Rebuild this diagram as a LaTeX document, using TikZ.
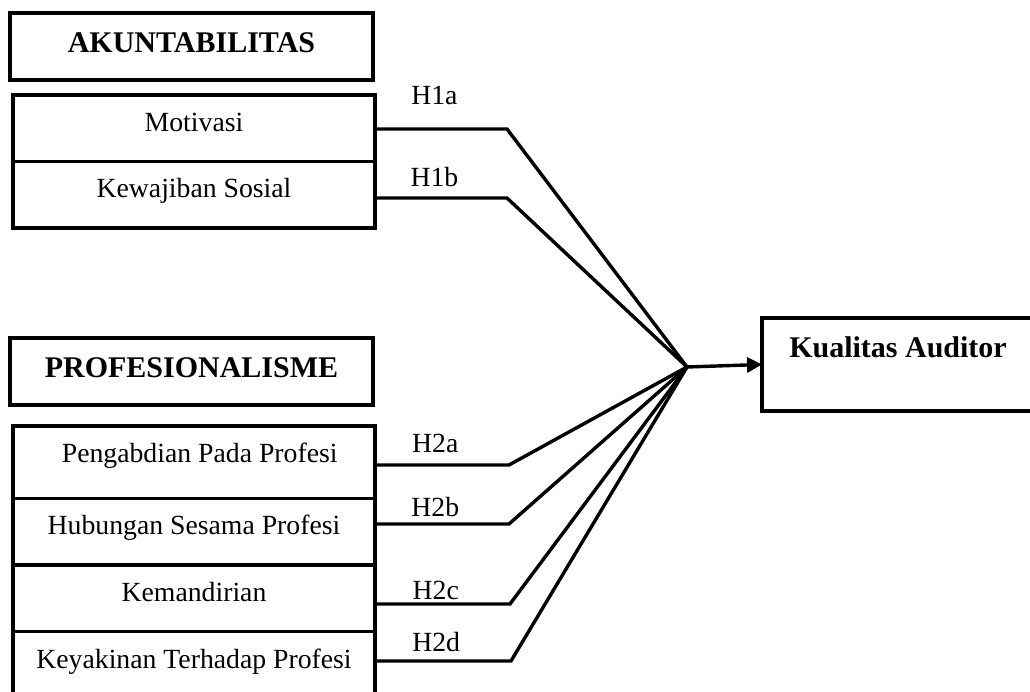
\documentclass[tikz,border=0pt]{standalone}
\usepackage{fontspec}
\setmainfont{Liberation Serif}
\usetikzlibrary{positioning,arrows.meta}
\begin{document}
\begin{tikzpicture}[
                        x=0.44pt,
                        y=-0.44pt,
                        header/.style={
                            rectangle,
                            draw,
                            line width=1.5pt,
                            outer sep=0pt,
                            inner sep=0pt,
                            minimum width=159.7pt,
                            text height=17.6pt,
                            text depth=11.9pt,
                            font=\fontsize{13.2pt}{16pt}\selectfont\bfseries
                        },
                        block/.style={
                            rectangle,
                            draw,
                            line width=1.5pt,
                            outer sep=0pt,
                            inner sep=0pt,
                            minimum width=159.3pt,
                            text height=16pt,
                            text depth=13.3pt,
                            font=\fontsize{12.2pt}{14pt}\selectfont
                        },
                        hyp/.style={
                            inner sep=0pt,
                            font=\fontsize{12.2pt}{14pt}\selectfont
                        },
                        line/.style={
                            draw,
                            line width=1.5pt
                        }]

                        \useasboundingbox (0,0) rectangle (1030,692);

                        % akuntabilitas
                        \node (akuntabilitas) [header, anchor=north west] at (10,13) {AKUNTABILITAS};
                        \node (motivasi) [block, anchor=north west] at (13,95) {Motivasi};
                        \node (kewajiban_sosial) [block, below=0pt of motivasi] {Kewajiban Sosial};

                        % profesionalisme
                        \node (profesionalisme) [header, anchor=north west] at (10,338) {PROFESIONALISME};
                        \node (pengabdian) [block, text depth=15.9pt, anchor=north west] at (13,426) {\hspace{5pt}Pengabdian Pada Profesi};
                        \node (hubungan) [block, below=0pt of pengabdian] {Hubungan Sesama Profesi};
                        \node (kemandirian) [block, below=0pt of hubungan] {Kemandirian};
                        \node (keyakinan) [block, below=0pt of kemandirian] {Keyakinan Terhadap Profesi};

                        \node (kualitas_auditor) [header, minimum width=119.7pt, text depth=23.3pt, anchor=north west] at (762,318) {Kualitas Auditor};

                        \coordinate (hub) at (687,367);
                        \coordinate (h1a_bend) at (507,129);
                        \coordinate (h1b_bend) at (507,198);
                        \coordinate (h2a_bend) at (509,465);
                        \coordinate (h2b_bend) at (509,524);
                        \coordinate (h2c_bend) at (510,604);
                        \coordinate (h2d_bend) at (511,661);

                        \draw [line] (motivasi.east |- h1a_bend) -- node[hyp, pos=0.45, above=9.7pt] {H1a} (h1a_bend) -- (hub);
                        \draw [line] (kewajiban_sosial.east |- h1b_bend) -- node[hyp, pos=0.45, above=4.4pt] {H1b} (h1b_bend) -- (hub);
                        \draw [line] (pengabdian.east |- h2a_bend) -- node[hyp, pos=0.45, above=4.8pt] {H2a} (h2a_bend) -- (hub);
                        \draw [line] (hubungan.east |- h2b_bend) -- node[hyp, pos=0.45, above=2.6pt] {H2b} (h2b_bend) -- (hub);
                        \draw [line] (kemandirian.east |- h2c_bend) -- node[hyp, pos=0.45, above=1pt] {H2c} (h2c_bend) -- (hub);
                        \draw [line] (keyakinan.east |- h2d_bend) -- node[hyp, pos=0.45, above=3.5pt] {H2d} (h2d_bend) -- (hub);

                        \draw [line, -{Triangle[length=6.6pt, width=6.6pt]}] (hub) -- (kualitas_auditor.west);

                    \end{tikzpicture}
\end{document}
